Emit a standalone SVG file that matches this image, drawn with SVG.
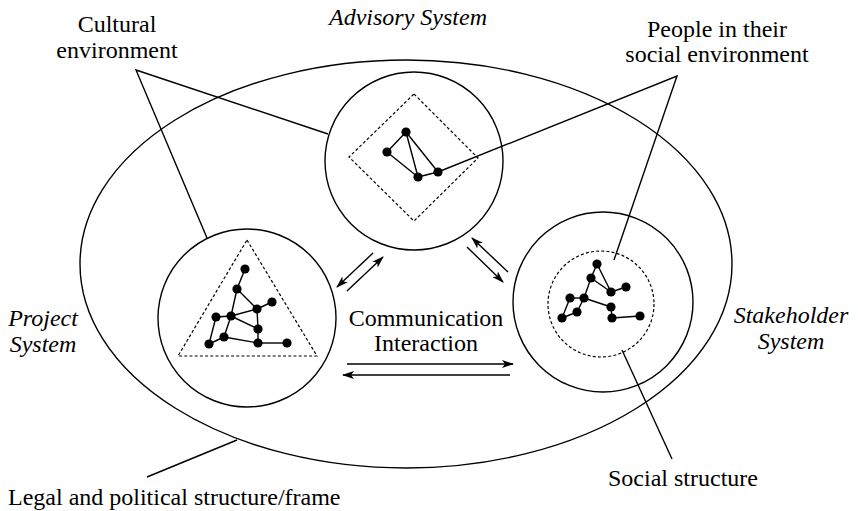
<svg xmlns="http://www.w3.org/2000/svg" width="858" height="511" viewBox="0 0 858 511">
  <style>
    .ln { fill: none; stroke: #000; stroke-width: 1.4; }
    .dash { fill: none; stroke: #000; stroke-width: 1.2; stroke-dasharray: 3 2.2; }
    .dot { fill: #000; }
    .net { stroke: #000; stroke-width: 1.4; }
    .lbl { font-family: "Liberation Serif", "Times New Roman", "DejaVu Serif", serif; font-size: 24px; fill: #000; text-anchor: middle; }
    .it { font-style: italic; }
  </style>
  <defs>
    <marker id="ah" viewBox="0 0 12 8" refX="11" refY="4" markerWidth="12" markerHeight="8" markerUnits="userSpaceOnUse" orient="auto">
      <path d="M0,0 L12,4 L0,8 L3,4 Z" fill="#000"/>
    </marker>
  </defs>

  <rect width="858" height="511" fill="#fff"/>

  <!-- outer frame: legal and political structure -->
  <g id="frame">
    <ellipse class="ln" cx="406" cy="264" rx="326" ry="204"/>
  </g>

  <!-- advisory system -->
  <g id="advisory">
    <circle class="ln" cx="414" cy="161" r="89"/>
    <polygon class="dash" points="414,94 478,158 414,221 349,157"/>
    <g class="net">
      <line x1="406" y1="132" x2="387" y2="152"/>
      <line x1="406" y1="132" x2="418" y2="177"/>
      <line x1="406" y1="132" x2="438" y2="172"/>
      <line x1="387" y1="152" x2="418" y2="177"/>
      <line x1="418" y1="177" x2="438" y2="172"/>
    </g>
    <g class="dot">
      <circle cx="406" cy="132" r="4.6"/>
      <circle cx="387" cy="152" r="4.6"/>
      <circle cx="418" cy="177" r="4.6"/>
      <circle cx="438" cy="172" r="4.6"/>
    </g>
  </g>

  <!-- project system -->
  <g id="project">
    <circle class="ln" cx="247" cy="318" r="89"/>
    <polygon class="dash" points="247,240 317,356 178,356"/>
    <g class="net">
      <line x1="245" y1="269" x2="237" y2="289"/>
      <line x1="237" y1="289" x2="231" y2="316"/>
      <line x1="237" y1="289" x2="257" y2="309"/>
      <line x1="257" y1="309" x2="272" y2="302"/>
      <line x1="257" y1="309" x2="258" y2="329"/>
      <line x1="216" y1="317" x2="231" y2="316"/>
      <line x1="231" y1="316" x2="257" y2="309"/>
      <line x1="231" y1="316" x2="258" y2="329"/>
      <line x1="231" y1="316" x2="224" y2="337"/>
      <line x1="216" y1="317" x2="209" y2="344"/>
      <line x1="224" y1="337" x2="209" y2="344"/>
      <line x1="224" y1="337" x2="258" y2="343"/>
      <line x1="258" y1="329" x2="258" y2="343"/>
      <line x1="258" y1="343" x2="287" y2="343"/>
    </g>
    <g class="dot">
      <circle cx="245" cy="269" r="4.6"/>
      <circle cx="237" cy="289" r="4.6"/>
      <circle cx="257" cy="309" r="4.6"/>
      <circle cx="272" cy="302" r="4.6"/>
      <circle cx="216" cy="317" r="4.6"/>
      <circle cx="231" cy="316" r="4.6"/>
      <circle cx="258" cy="329" r="4.6"/>
      <circle cx="224" cy="337" r="4.6"/>
      <circle cx="209" cy="344" r="4.6"/>
      <circle cx="258" cy="343" r="4.6"/>
      <circle cx="287" cy="343" r="4.6"/>
    </g>
  </g>

  <!-- stakeholder system -->
  <g id="stakeholder">
    <circle class="ln" cx="603" cy="302" r="90"/>
    <circle class="dash" cx="601" cy="304" r="53"/>
    <g class="net">
      <line x1="597" y1="264" x2="591" y2="278"/>
      <line x1="597" y1="264" x2="611" y2="292"/>
      <line x1="591" y1="278" x2="611" y2="292"/>
      <line x1="611" y1="292" x2="626" y2="287"/>
      <line x1="591" y1="278" x2="584" y2="298"/>
      <line x1="570" y1="298" x2="584" y2="298"/>
      <line x1="584" y1="298" x2="611" y2="307"/>
      <line x1="570" y1="298" x2="562" y2="318"/>
      <line x1="584" y1="298" x2="577" y2="312"/>
      <line x1="577" y1="312" x2="562" y2="318"/>
      <line x1="611" y1="307" x2="612" y2="318"/>
      <line x1="612" y1="318" x2="640" y2="316"/>
    </g>
    <g class="dot">
      <circle cx="597" cy="264" r="4.6"/>
      <circle cx="591" cy="278" r="4.6"/>
      <circle cx="611" cy="292" r="4.6"/>
      <circle cx="626" cy="287" r="4.6"/>
      <circle cx="570" cy="298" r="4.6"/>
      <circle cx="584" cy="298" r="4.6"/>
      <circle cx="611" cy="307" r="4.6"/>
      <circle cx="577" cy="312" r="4.6"/>
      <circle cx="562" cy="318" r="4.6"/>
      <circle cx="612" cy="318" r="4.6"/>
      <circle cx="640" cy="316" r="4.6"/>
    </g>
  </g>

  <!-- connectors: label leaders and communication arrows -->
  <g id="connectors">
    <g class="ln">
      <polyline points="328,134 136,70 207,238"/>
      <polyline points="438,172 677,76 614,260"/>
      <line x1="622" y1="350" x2="672" y2="459"/>
      <line x1="147" y1="477" x2="237" y2="440"/>
    </g>
    <g class="ln" marker-end="url(#ah)">
      <line x1="373" y1="253" x2="337" y2="287"/>
      <line x1="347" y1="291" x2="383" y2="257"/>
      <line x1="508" y1="272" x2="472" y2="238"/>
      <line x1="467" y1="247" x2="503" y2="282"/>
      <line x1="347" y1="364" x2="513" y2="364"/>
      <line x1="510" y1="375" x2="343" y2="375"/>
    </g>
  </g>

  <!-- labels -->
  <g id="labels">
    <text class="lbl it" x="408" y="25">Advisory System</text>
    <text class="lbl" x="117" y="32">Cultural</text>
    <text class="lbl" x="117" y="58">environment</text>
    <text class="lbl" x="717" y="37">People in their</text>
    <text class="lbl" x="717" y="62">social environment</text>
    <text class="lbl it" x="43" y="326">Project</text>
    <text class="lbl it" x="43" y="352">System</text>
    <text class="lbl it" x="791" y="323">Stakeholder</text>
    <text class="lbl it" x="791" y="349">System</text>
    <text class="lbl" x="426" y="326">Communication</text>
    <text class="lbl" x="426" y="351">Interaction</text>
    <text class="lbl" x="683" y="486">Social structure</text>
    <text class="lbl" x="8" y="505" style="text-anchor:start">Legal and political structure/frame</text>
  </g>
</svg>
